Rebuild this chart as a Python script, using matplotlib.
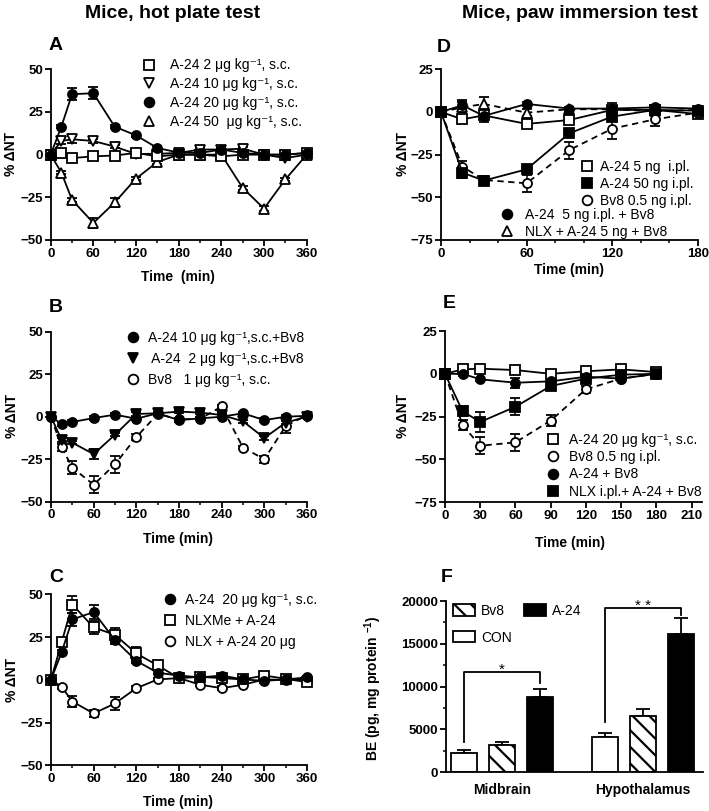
import matplotlib
matplotlib.use('Agg')
import matplotlib.pyplot as plt
from matplotlib.lines import Line2D
from matplotlib.patches import Patch
import numpy as np

plt.rcParams['font.family'] = ['Liberation Sans', 'DejaVu Sans']
plt.rcParams['mathtext.fontset'] = 'custom'
plt.rcParams['mathtext.rm'] = 'Liberation Sans'
plt.rcParams['mathtext.it'] = 'Liberation Sans:italic'
plt.rcParams['mathtext.bf'] = 'Liberation Sans:bold'
plt.rcParams['hatch.linewidth'] = 1.6

# ---------------- data ----------------
t_hp = [0, 15, 30, 60, 90, 120, 150, 180, 210, 240, 270, 300, 330, 360]

a_2 = [0, 1, -2, -1, -0.5, 1, -1, 0, 0, -1, 0, 0, 0, 1]
a_2_err = [0, 1, 1, 1, 1, 1, 1, 1, 1, 1, 1, 1, 1, 1]
a_10 = [0, 8, 9, 8, 4.7, 0.4, 0.5, 1, 3, 3, 3.5, 0, -2, 0]
a_10_err = [0, 2, 2, 1, 1, 1, 1, 1, 1, 1, 1, 1, 1, 1]
a_20 = [0, 16.4, 35.4, 36, 16.4, 11.3, 3.9, 1.2, 1, 3, 1, 0, 0, 1]
a_20_err = [0, 1, 3.5, 3.5, 1, 1, 1, 1, 1, 1, 1, 1, 1, 1]
a_50 = [0, -10.5, -26.5, -40, -28, -14, -4.3, 0, 0, 0, -19.5, -31.6, -14.5, 0]
a_50_err = [0, 1, 1, 2.7, 2.5, 1, 1, 1, 1, 1, 1, 1.6, 1, 1]

b_10 = [0, -4.3, -3.1, -0.8, 1.2, -1.2, 2, -2, -1, 0, 2, -2, 0, 0.5]
b_10_err = [0, 1, 1, 1, 1, 1, 1, 1, 1, 1, 1, 1, 1, 1]
b_2 = [0, -13.7, -15.3, -22, -10.6, 1.6, 2, 3, 2.4, 1, -2.7, -12.5, -3.5, 0]
b_2_err = [0, 1, 1, 3, 1, 1, 1, 1, 1, 1, 1, 1, 1, 1]
b_bv8 = [0, -18, -30, -40, -28, -12, 1.6, -1.6, -1.2, 6, -18.2, -25, -5.5, 1]
b_bv8_err = [0, 2, 4, 5, 5, 2, 1, 1, 1, 1, 1, 2, 4, 1]

c_a24 = [0, 16.2, 35.3, 39.6, 23.2, 11.1, 4.1, 2.5, 1.4, 2.5, 0.2, -0.6, 0.2, 1.4]
c_a24_err = [0, 1, 4, 4, 2, 1, 1, 1, 1, 1, 1, 1, 1, 1]
c_nlxme = [0, 22, 44, 30.6, 26.3, 15.4, 8.4, 1, 1.7, 1, 0.2, 2.5, 0.6, -1.4]
c_nlxme_err = [0, 2, 5, 4, 4, 4, 1, 1, 1, 1, 1, 1, 1, 1]
c_nlx = [0, -4.1, -12.7, -19.7, -13.8, -4.9, 0.2, 1, -2.9, -4.9, -2.9, 0.2, 0, 0]
c_nlx_err = [0, 1, 3, 2, 4, 1, 1, 1, 1, 1, 1, 1, 1, 1]

t_pi = [0, 15, 30, 60, 90, 120, 150, 180]

d_a5 = [0, -4.3, -2, -7, -4.7, 1.2, 1.2, -1.2]
d_a5_err = [0, 2, 4, 2, 2, 2, 1, 1]
d_a50 = [0, -35.5, -40.2, -33.6, -12.5, -2.7, 1.2, 0.8]
d_a50_err = [0, 3, 2, 2, 2, 2, 1, 1]
d_bv8 = [0, -32, -39.8, -41.8, -22.3, -9.8, -4.3, -0.4]
d_bv8_err = [0, 3, 2, 5, 5, 6, 4, 1]
d_a5bv8 = [0, 3.9, -2.3, 4.7, 2, 2, 2.7, 2]
d_a5bv8_err = [0, 3, 2, 1, 1, 3, 1, 1]
d_nlx = [0, 2.7, 4.7, -0.4, 1.6, 1.6, 0.4, 1.2]
d_nlx_err = [0, 3, 4, 2, 1, 1, 1, 1]

e_a24 = [0, 2.6, 3, 2.2, 0, 1.5, 2.6, 1]
e_a24_err = [0, 1, 1, 1, 1, 1, 1, 1]
e_bv8 = [0, -30, -42, -40, -27.3, -9, -2.8, 0]
e_bv8_err = [0, 3, 5, 5, 3, 2, 1, 1]
e_a24bv8 = [0, 0, -3.2, -5.2, -4.4, -1.7, -2.8, 0]
e_a24bv8_err = [0, 1, 1, 3, 1, 1, 1, 1]
e_nlx = [0, -21.9, -28.1, -19.2, -7.1, -2.8, -0.5, 0]
e_nlx_err = [0, 3, 6, 5, 2, 1, 1, 1]

f_regions = ['Midbrain', 'Hypothalamus']
f_con = [2200, 4100]
f_con_err = [400, 500]
f_bv8 = [3200, 6550]
f_bv8_err = [380, 880]
f_a24 = [8800, 16100]
f_a24_err = [900, 1950]
f_sig_labels = ['*', '* *']
f_sig_top = [11750, 19220]
f_sig_left = [3580, 5910]
f_sig_right = [10470, 18370]

# ---------------- figure ----------------
W, H = 709, 811
fig = plt.figure(figsize=(7.09, 8.11), dpi=100)


def box(l, r, t, b):
    return [l / W, 1 - b / H, (r - l) / W, (b - t) / H]


def ftext(x, y, s, **kw):
    fig.text(x / W, 1 - y / H, s, **kw)


def style(ax, xlim, xticks, xminor, ylim, yticks):
    ax.set_xlim(xlim)
    ax.set_ylim(ylim)
    ax.set_xticks(xticks)
    ax.set_yticks(yticks)
    if xminor is not None:
        ax.set_xticks(xminor, minor=True)
    for s in ['top', 'right']:
        ax.spines[s].set_visible(False)
    for s in ['left', 'bottom']:
        ax.spines[s].set_linewidth(1.3)
    ax.tick_params(which='major', length=4, width=1.3, labelsize=9.5, pad=1.5)
    ax.tick_params(which='minor', length=2.5, width=1.1)
    for lab in ax.get_xticklabels() + ax.get_yticklabels():
        lab.set_fontweight('bold')


def series(ax, x, y, err, marker, filled, dashed, ms=6.5):
    cont = ax.errorbar(x, y, yerr=err, color='k', lw=1.3,
                       ls=(0, (3.5, 2.5)) if dashed else '-',
                       marker=marker, ms=ms, mfc='k' if filled else 'white',
                       mec='k', mew=1.3, capsize=3.5, elinewidth=1.1, capthick=1.1)
    for ch in cont.get_children():
        ch.set_clip_on(False)
    return cont


def h(marker, filled, ms=7):
    return Line2D([], [], ls='none', marker=marker, ms=ms,
                  mfc='k' if filled else 'white', mec='k', mew=1.3)


def leg(ax, handles, labels, mx, ty, spacing, fs=10, pad=0.9):
    fs_px = fs * 100 / 72
    lg = ax.legend(handles, labels, loc='upper left',
                   bbox_to_anchor=((mx - 0.5 * fs_px) / W, 1 - ty / H),
                   bbox_transform=fig.transFigure, frameon=False, fontsize=fs,
                   handlelength=1.0, handletextpad=pad, borderpad=0,
                   borderaxespad=0, labelspacing=spacing, handleheight=0.7)
    return lg


mu = 'μg kg⁻¹'

# ---------------- A ----------------
axA = fig.add_axes(box(50.7, 306.7, 69.3, 240))
series(axA, t_hp, a_50, a_50_err, '^', False, False)
series(axA, t_hp, a_10, a_10_err, 'v', False, False)
series(axA, t_hp, a_2, a_2_err, 's', False, False)
series(axA, t_hp, a_20, a_20_err, 'o', True, False)
style(axA, (0, 360), range(0, 361, 60), range(30, 361, 60), (-50, 50), [-50, -25, 0, 25, 50])
leg(axA, [h('s', False), h('v', False), h('o', True), h('^', False)],
    ['A-24 2 ' + mu + ', s.c.', 'A-24 10 ' + mu + ', s.c.',
     'A-24 20 ' + mu + ', s.c.', 'A-24 50  ' + mu + ', s.c.'],
    149, 58.5, 0.34, pad=1.0)

# ---------------- B ----------------
axB = fig.add_axes(box(51, 307, 331.7, 501.7))
series(axB, t_hp, b_bv8, b_bv8_err, 'o', False, True)
series(axB, t_hp, b_2, b_2_err, 'v', True, False)
series(axB, t_hp, b_10, b_10_err, 'o', True, False)
style(axB, (0, 360), range(0, 361, 60), range(30, 361, 60), (-50, 50), [-50, -25, 0, 25, 50])
leg(axB, [h('o', True), h('v', True), h('o', False)],
    ['A-24 10 ' + mu + ',s.c.+Bv8', ' A-24  2 ' + mu + ',s.c.+Bv8',
     'Bv8   1 ' + mu + ', s.c.'],
    133, 331, 0.51, pad=0.6)

# ---------------- C ----------------
axC = fig.add_axes(box(51, 307, 594.3, 765.3))
series(axC, t_hp, c_nlx, c_nlx_err, 'o', False, False)
series(axC, t_hp, c_nlxme, c_nlxme_err, 's', False, False)
series(axC, t_hp, c_a24, c_a24_err, 'o', True, False)
style(axC, (0, 360), range(0, 361, 60), range(30, 361, 60), (-50, 50), [-50, -25, 0, 25, 50])
leg(axC, [h('o', True), h('s', False), h('o', False)],
    ['A-24  20 ' + mu + ', s.c.', 'NLXMe + A-24', 'NLX + A-24 20 μg'],
    170, 593, 0.5, pad=0.6)

# ---------------- D ----------------
axD = fig.add_axes(box(441, 697.7, 69.3, 240))
series(axD, t_pi, d_a5, d_a5_err, 's', False, False)
series(axD, t_pi, d_nlx, d_nlx_err, '^', False, True)
series(axD, t_pi, d_a5bv8, d_a5bv8_err, 'o', True, False)
series(axD, t_pi, d_bv8, d_bv8_err, 'o', False, True)
series(axD, t_pi, d_a50, d_a50_err, 's', True, False)
style(axD, (0, 180), range(0, 181, 60), [20, 40, 80, 100, 140, 160], (-75, 25), [-75, -50, -25, 0, 25])
lgD1 = leg(axD, [h('s', False), h('s', True), h('o', False)],
           ['A-24 5 ng  i.pl.', 'A-24 50 ng i.pl.', 'Bv8 0.5 ng i.pl.'],
           586.7, 160, 0.2, pad=0.45)
axD.add_artist(lgD1)
leg(axD, [h('o', True), h('^', False)],
    ['A-24  5 ng i.pl. + Bv8', 'NLX + A-24 5 ng + Bv8'],
    506.7, 208, 0.2, pad=0.85)

# ---------------- E ----------------
axE = fig.add_axes(box(445, 702.3, 331, 502.3))
series(axE, t_pi, e_a24, e_a24_err, 's', False, False)
series(axE, t_pi, e_bv8, e_bv8_err, 'o', False, True)
series(axE, t_pi, e_a24bv8, e_a24bv8_err, 'o', True, False)
series(axE, t_pi, e_nlx, e_nlx_err, 's', True, False)
style(axE, (0, 219), range(0, 211, 30), None, (-75, 25), [-75, -50, -25, 0, 25])
leg(axE, [h('s', False), h('o', False), h('o', True), h('s', True)],
    ['A-24 20 ' + mu + ', s.c.', 'Bv8 0.5 ng i.pl.', 'A-24 + Bv8', 'NLX i.pl.+ A-24 + Bv8'],
    553, 433, 0.23, pad=0.65)

# ---------------- F ----------------
axF = fig.add_axes(box(446, 703, 601, 772.3))
centers = np.array([2.15, 7.6])
off = 1.47
bw = 1.0
axF.bar(centers - off, f_con, bw, color='white', edgecolor='k', lw=1.3, zorder=2)
axF.bar(centers, f_bv8, bw, color='white', edgecolor='k', lw=1.3, hatch='\\\\', zorder=2)
axF.bar(centers + off, f_a24, bw, color='k', edgecolor='k', lw=1.3, zorder=2)
for xs, vals, errs in [(centers - off, f_con, f_con_err), (centers, f_bv8, f_bv8_err),
                       (centers + off, f_a24, f_a24_err)]:
    axF.errorbar(xs, vals, yerr=[np.zeros(len(errs)), errs], fmt='none', ecolor='k',
                 elinewidth=1.3, capsize=5, capthick=1.3, zorder=1)
for i in range(2):
    xl, xr = centers[i] - off, centers[i] + off
    axF.plot([xl, xl, xr, xr], [f_sig_left[i], f_sig_top[i], f_sig_top[i], f_sig_right[i]],
             color='k', lw=1.3)
    axF.text((xl + xr) / 2, f_sig_top[i] + 250, f_sig_labels[i], ha='center', va='center',
             fontsize=11)
axF.set_xlim(0, 9.9)
axF.set_ylim(0, 20000)
axF.set_yticks([0, 5000, 10000, 15000, 20000])
axF.set_yticks(range(2500, 20000, 5000), minor=True)
axF.set_xticks(centers)
axF.set_xticklabels(f_regions)
for s in ['top', 'right']:
    axF.spines[s].set_visible(False)
for s in ['left', 'bottom']:
    axF.spines[s].set_linewidth(1.3)
axF.tick_params(axis='y', which='major', length=4, width=1.3, labelsize=9.5, pad=1.5)
axF.tick_params(axis='y', which='minor', length=2.5, width=1.1)
axF.tick_params(axis='x', length=0, labelsize=10, pad=8)
for lab in axF.get_xticklabels() + axF.get_yticklabels():
    lab.set_fontweight('bold')
fh = [Patch(facecolor='white', edgecolor='k', hatch='\\\\', lw=1.3),
      Patch(facecolor='white', edgecolor='k', lw=1.3),
      Patch(facecolor='k', edgecolor='k', lw=1.3)]
axF.legend(fh, ['Bv8', 'CON', 'A-24'], ncol=2, loc='upper left',
           bbox_to_anchor=(453 / W, 1 - 604 / H), bbox_transform=fig.transFigure,
           frameon=False, fontsize=10, handlelength=1.6, handleheight=0.9,
           handletextpad=0.4, borderpad=0, borderaxespad=0, labelspacing=0.9,
           columnspacing=0.9)

# ---------------- labels ----------------
ylab = dict(rotation=90, ha='center', va='center', fontsize=10, fontweight='bold')
xlab = dict(ha='center', va='center', fontsize=10, fontweight='bold')
ftext(11, 154, '% ΔNT', **ylab)
ftext(12, 416, '% ΔNT', **ylab)
ftext(12, 680, '% ΔNT', **ylab)
ftext(403, 154, '% ΔNT', **ylab)
ftext(403, 416, '% ΔNT', **ylab)
ftext(373, 688, 'BE (pg, mg protein $^{\\mathbf{-1}}$)', rotation=90, ha='center', va='center',
      fontsize=10, fontweight='bold')
ftext(178, 277, 'Time  (min)', **xlab)
ftext(178, 539, 'Time (min)', **xlab)
ftext(178, 802, 'Time (min)', **xlab)
ftext(569, 270, 'Time (min)', **xlab)
ftext(570, 543, 'Time (min)', **xlab)

pl = dict(ha='left', va='center', fontsize=14, fontweight='bold')
ftext(49, 46, 'A', **pl)
ftext(49, 308, 'B', **pl)
ftext(49, 577, 'C', **pl)
ftext(437, 47, 'D', **pl)
ftext(443, 303, 'E', **pl)
ftext(441, 578, 'F', **pl)

tt = dict(ha='center', va='center', fontsize=14, fontweight='bold',
          family=['Liberation Sans Narrow', 'Liberation Sans'])
ftext(173, 14, 'Mice, hot plate test', **tt)
ftext(580, 14, 'Mice, paw immersion test', **tt)

fig.savefig('out.png', dpi=100)
